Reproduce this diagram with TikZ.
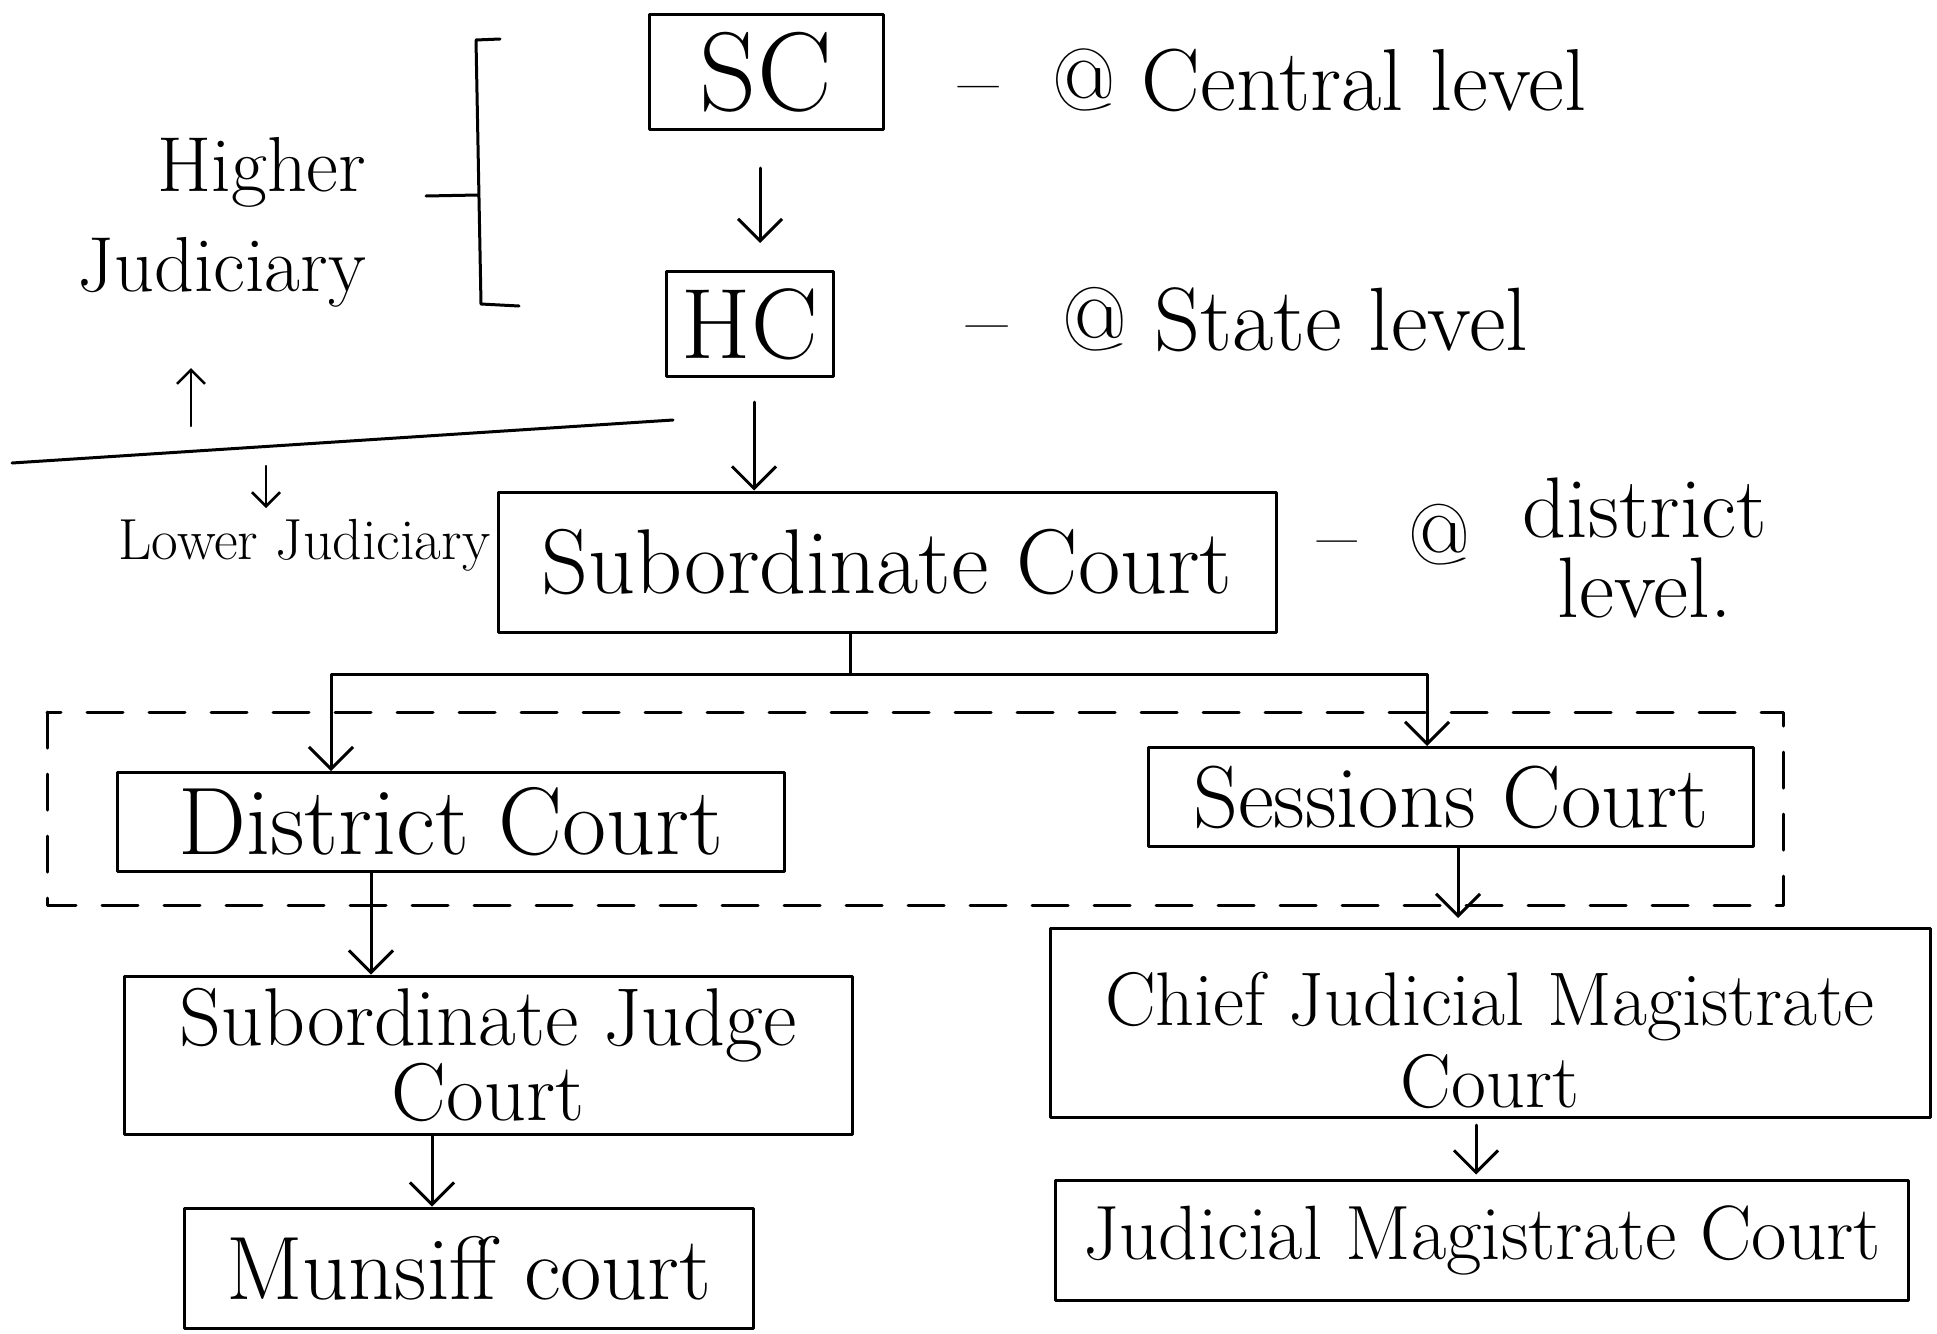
\documentclass[tikz,border=0pt]{standalone}
\usetikzlibrary{arrows.meta}
\newcommand\fsz[2]{\fontsize{#1pt}{#2pt}\selectfont}
\begin{document}
\begin{tikzpicture}[x=1pt,y=-1pt, line width=3pt, line join=round, line cap=round,
  box/.style={draw, line width=3pt, inner sep=0pt},
  arr/.style={-{Straight Barb[length=22pt,width=44pt]}, line width=3pt},
  sarr/.style={-{Straight Barb[length=14pt,width=28pt]}, line width=2.5pt},
  lbl/.style={inner sep=0pt},
  dashbox/.style={draw, line width=3pt, dash pattern=on 36pt off 26pt}]
\useasboundingbox (0,0) rectangle (1937,1333);
\fill[white] (0,0) rectangle (1937,1333);

% boxes
\node[box, minimum width=234pt, minimum height=115pt, font={\fsz{112}{112}}] (sc) at (766,72) {SC};
\node[box, minimum width=167pt, minimum height=105pt, font={\fsz{100}{100}}] (hc) at (750,324) {HC};
\node[box, minimum width=778pt, minimum height=140pt, font={\fsz{92}{92}}] (sub) at (887,562) {Subordinate Court};
\node[box, minimum width=667pt, minimum height=99pt, font={\fsz{96}{96}}] (dc) at (451,822) {District Court};
\node[box, minimum width=605pt, minimum height=99pt, font={\fsz{88}{88}}] (ses) at (1451,797) {Sessions Court};
\node[box, minimum width=728pt, minimum height=158pt, align=center, font={\fsz{82}{70}}] (sjc) at (488,1055) {Subordinate Judge\\Court};
\node[box, minimum width=880pt, minimum height=189pt, align=center, font={\fsz{76}{82}}, text height=170pt] (cjm) at (1490,1023) {Chief Judicial Magistrate\\Court};
\node[box, minimum width=569pt, minimum height=120pt, font={\fsz{90}{90}}] (mun) at (469,1268) {Munsiff court};
\node[box, minimum width=853pt, minimum height=120pt, font={\fsz{77}{77}}] (jmc) at (1482,1240) {Judicial Magistrate Court};

% side labels
\node[lbl, anchor=west, font={\fsz{88}{90}}] (cl) at (957,80) {-- \ @ Central level};
\node[lbl, anchor=west, font={\fsz{90}{90}}] (sl) at (965,320) {-- \ @ State level};
\node[lbl, anchor=west, font={\fsz{86}{68}}] (dl) at (1316,558) {-- \ @ \ \begin{tabular}{@{}c@{}}district\\level.\end{tabular}};
\node[lbl, align=left, font={\fsz{78}{100}}] (hj) at (222,222) {\hspace*{80pt}Higher\\Judiciary};
\node[lbl, anchor=west, font={\fsz{58}{60}}] (lj) at (117,545) {Lower Judiciary};

% bracket for higher judiciary
\coordinate (bt) at (500,39);
\coordinate (bb) at (519,306);
\draw (bt) -- (476,40) -- (481,304) -- (bb);
\coordinate (btick) at (478,195);
\draw (btick) -- (426,196);

% divider between higher and lower judiciary
\coordinate (divL) at (12,463);
\coordinate (divR) at (673,420);
\draw (divL) -- (divR);
\coordinate (upA) at (191,426);
\coordinate (upB) at (191,368);
\draw[sarr] (upA) -- (upB);
\coordinate (dnA) at (266,466);
\coordinate (dnB) at (266,508);
\draw[sarr] (dnA) -- (dnB);

% dashed group
\draw[dashbox] (47,712) rectangle (1783,905);

% connectors
\draw[arr, shorten <=37pt, shorten >=27pt] ([xshift=-6pt]sc.south) -- ([xshift=-6pt]sc.south |- hc.north);
\draw[arr, shorten <=24pt] ([xshift=4pt]hc.south) -- ([xshift=4pt]hc.south |- sub.north);
\draw ([xshift=-37pt]sub.south) -- ++(0,41) coordinate (j);
\draw[arr] (j) -| ([xshift=-120pt]dc.north);
\draw[arr] (j) -| ([xshift=-24pt]ses.north);
\draw[arr] ([xshift=-80pt]dc.south) -- ([xshift=-80pt]dc.south |- sjc.north);
\draw[arr, shorten >=9pt] ([xshift=7pt]ses.south) -- ([xshift=7pt]ses.south |- cjm.north);
\draw[arr] ([xshift=-56pt]sjc.south) -- ([xshift=-56pt]sjc.south |- mun.north);
\draw[arr, shorten <=6pt, shorten >=4pt] ([xshift=-14pt]cjm.south) -- ([xshift=-14pt]cjm.south |- jmc.north);
\end{tikzpicture}
\end{document}
